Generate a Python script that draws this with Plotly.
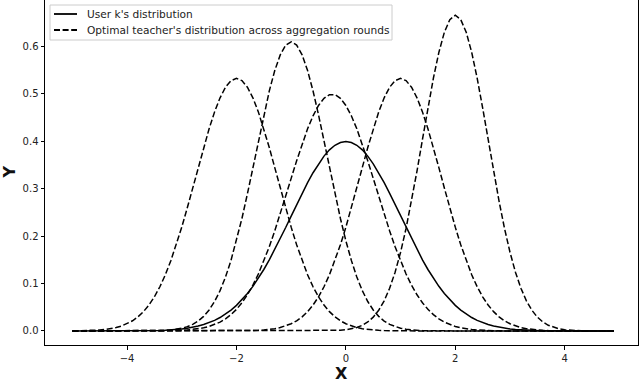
import numpy as np
import plotly.graph_objects as go

# Data grid (x samples) as in reference: -5 to 4.9
x_start, x_stop, x_step = -5.0, 5.0, 0.1

# User k's distribution (solid)
user_mean = 0.0
user_std = 1.0

# Optimal teacher's distributions across aggregation rounds (dashed)
teacher_means = [-2.0, -1.0, -0.25, 1.0, 2.0]
teacher_stds = [0.75, 0.655, 0.80, 0.75, 0.60]

x_ticks = [-4, -2, 0, 2, 4]
y_ticks = [0.0, 0.1, 0.2, 0.3, 0.4, 0.5, 0.6]

legend_labels = ["User k's distribution",
                 "Optimal teacher's distribution across aggregation rounds"]

x = np.arange(x_start, x_stop, x_step)

DASH = "6px,2.6px"


def pdf(xv, m, s):
    return np.exp(-0.5 * ((xv - m) / s) ** 2) / (s * np.sqrt(2 * np.pi))


fig = go.Figure()
fig.add_trace(go.Scatter(x=x, y=pdf(x, user_mean, user_std), mode="lines",
                         line=dict(color="black", width=1.5),
                         name=legend_labels[0], showlegend=False))
for i, (m, s) in enumerate(zip(teacher_means, teacher_stds)):
    fig.add_trace(go.Scatter(x=x, y=pdf(x, m, s), mode="lines",
                             line=dict(color="black", width=1.5, dash=DASH),
                             name=legend_labels[1], showlegend=False))

# plot area in pixels: left 45, width 593, top 0, height 345
PW, PH = 593.0, 345.0


def px(xp):
    return (xp - 45) / PW


def py(yp):
    return (PH - yp) / PH


font_family = "DejaVu Sans"

shapes = [
    # legend frame
    dict(type="rect", xref="paper", yref="paper",
         x0=px(50), x1=px(392), y0=py(40), y1=py(5),
         fillcolor="rgba(255,255,255,0.8)", line=dict(color="#cccccc", width=1), layer="above"),
    # legend samples
    dict(type="line", xref="paper", yref="paper", x0=px(54), x1=px(77), y0=py(14), y1=py(14),
         line=dict(color="black", width=1.8), layer="above"),
    dict(type="line", xref="paper", yref="paper", x0=px(54), x1=px(77), y0=py(30), y1=py(30),
         line=dict(color="black", width=1.8, dash=DASH), layer="above"),
]

annotations = [
    dict(text=legend_labels[0], x=px(85), y=py(14), xref="paper", yref="paper",
         xanchor="left", yanchor="middle", showarrow=False,
         font=dict(family=font_family, size=10.6, color="#222")),
    dict(text=legend_labels[1], x=px(85), y=py(30), xref="paper", yref="paper",
         xanchor="left", yanchor="middle", showarrow=False,
         font=dict(family=font_family, size=10.6, color="#222")),
    dict(text="<b>X</b>", x=0.5, y=-0.084, xref="paper", yref="paper",
         xanchor="center", yanchor="middle", showarrow=False,
         font=dict(family=font_family, size=16, color="#111")),
    dict(text="<b>Y</b>", x=0, y=0.5, xref="paper", yref="paper", xshift=-36,
         xanchor="center", yanchor="middle", showarrow=False, textangle=-90,
         font=dict(family=font_family, size=16, color="#111")),
]

fig.update_layout(
    width=640, height=382,
    margin=dict(l=45, r=2, t=0, b=37),
    paper_bgcolor="white", plot_bgcolor="white",
    font=dict(family=font_family, size=10, color="#222"),
    showlegend=False,
    xaxis=dict(range=[-5.5, 5.34], tickvals=x_ticks, ticktext=[str(t).replace("-", "−") for t in x_ticks],
               showgrid=False, zeroline=False, showline=True, linecolor="black", linewidth=1,
               mirror=False, ticks="outside", ticklen=3.5, tickcolor="black", tickwidth=0.8),
    yaxis=dict(range=[-0.0295, 0.697], tickvals=y_ticks, ticktext=[f"{t:.1f}" for t in y_ticks],
               showgrid=False, zeroline=False, showline=True, linecolor="black", linewidth=1,
               mirror=True, ticks="outside", ticklen=3.5, tickcolor="black", tickwidth=0.8),
    shapes=shapes,
    annotations=annotations,
)

fig.write_html("out.html", config={"displayModeBar": False},
               post_script="document.body.style.margin='0';document.body.style.overflow='hidden';")
